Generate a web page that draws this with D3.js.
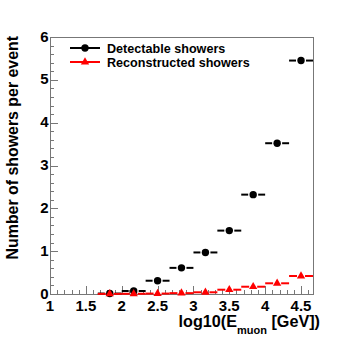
<!DOCTYPE html>
<html>
<head>
<meta charset="utf-8">
<script src="https://cdn.jsdelivr.net/npm/d3@7"></script>
<style>
  html, body { margin: 0; padding: 0; background: #fff; }
  svg text { font-family: "Liberation Sans", Arial, sans-serif; font-weight: bold; }
</style>
</head>
<body>
<svg id="chart" width="360" height="346"></svg>
<script>
// bin centres in log10(E_muon), bins are 1/3 wide
var binCenters = [1.833, 2.167, 2.5, 2.833, 3.167, 3.5, 3.833, 4.167, 4.5];
var binHalf = 1 / 6;
var detectable = [0.01, 0.07, 0.31, 0.61, 0.97, 1.48, 2.32, 3.52, 5.45];
var reconstructed = [0.003, 0.005, 0.01, 0.02, 0.04, 0.10, 0.17, 0.25, 0.42];
var xTicks = [1, 1.5, 2, 2.5, 3, 3.5, 4, 4.5];
var yTicks = [0, 1, 2, 3, 4, 5, 6];
var legendLabels = ["Detectable showers", "Reconstructed showers"];

(function () {
  var svg = d3.select("#chart");
  var L = 50, R = 313, T = 37, B = 294;
  var x = d3.scaleLinear().domain([1, 4.667]).range([L, R]);
  var y = d3.scaleLinear().domain([0, 6]).range([B, T]);
  var axisCol = "#777";

  // frame
  svg.append("rect").attr("x", L + 0.5).attr("y", T + 0.5)
    .attr("width", R - L).attr("height", B - T)
    .attr("fill", "none").attr("stroke", axisCol);

  // x axis ticks (major 0.5, minor 0.1)
  var xMinor = d3.range(10, 47).map(function (d) { return d / 10; });
  svg.append("g").selectAll("line").data(xMinor).enter().append("line")
    .attr("x1", function (d) { return Math.round(x(d)) + 0.5; })
    .attr("x2", function (d) { return Math.round(x(d)) + 0.5; })
    .attr("y1", B)
    .attr("y2", function (d) { return Math.abs(d * 2 - Math.round(d * 2)) < 1e-6 ? B - 8 : B - 4; })
    .attr("stroke", axisCol);
  svg.append("g").selectAll("text").data(xTicks).enter().append("text")
    .attr("x", function (d) { return x(d); }).attr("y", 310.5)
    .attr("text-anchor", "middle").attr("font-size", 15).attr("fill", "#000")
    .text(function (d) { return d; });

  // y axis ticks (major 1, minor 0.2)
  var yMinor = d3.range(0, 31).map(function (d) { return d / 5; });
  svg.append("g").selectAll("line").data(yMinor).enter().append("line")
    .attr("y1", function (d) { return Math.round(y(d)) + 0.5; })
    .attr("y2", function (d) { return Math.round(y(d)) + 0.5; })
    .attr("x1", L)
    .attr("x2", function (d) { return Math.abs(d - Math.round(d)) < 1e-6 ? L + 8 : L + 4; })
    .attr("stroke", axisCol);
  svg.append("g").selectAll("text").data(yTicks).enter().append("text")
    .attr("x", 48.5).attr("y", function (d) { return y(d) + 4.5; })
    .attr("text-anchor", "end").attr("font-size", 15).attr("fill", "#000")
    .text(function (d) { return d; });

  // axis titles
  svg.append("text")
    .attr("transform", "translate(18," + (T - 1) + ") rotate(-90)")
    .attr("text-anchor", "end").attr("font-size", 15.9)
    .text("Number of showers per event");
  var xt = svg.append("text").attr("x", 320).attr("y", 327)
    .attr("text-anchor", "end").attr("font-size", 16.2);
  xt.append("tspan").text("log10(E");
  xt.append("tspan").attr("font-size", 11).attr("dy", 7).text("muon");
  xt.append("tspan").attr("dy", -7).text(" [GeV])");

  function series(vals, col, shape, gap) {
    var g = svg.append("g");
    vals.forEach(function (v, i) {
      var cx = x(binCenters[i]), cy = y(v);
      g.append("line").attr("x1", x(binCenters[i] - binHalf)).attr("x2", cx - gap)
        .attr("y1", cy).attr("y2", cy).attr("stroke", col).attr("stroke-width", 2);
      g.append("line").attr("x1", cx + gap).attr("x2", Math.min(x(binCenters[i] + binHalf), R))
        .attr("y1", cy).attr("y2", cy).attr("stroke", col).attr("stroke-width", 2);
      marker(g, shape, cx, cy, col);
    });
  }
  function marker(g, shape, cx, cy, col) {
    if (shape === "circle") {
      g.append("circle").attr("cx", cx).attr("cy", cy).attr("r", 3.7).attr("fill", col);
    } else {
      g.append("path").attr("d", d3.symbol(d3.symbolTriangle, 30)())
        .attr("transform", "translate(" + cx + "," + cy + ")").attr("fill", col);
    }
  }
  series(detectable, "#000", "circle", 5);
  series(reconstructed, "#ff0000", "triangle", 4);

  // legend
  var leg = [{ c: "#000", s: "circle" }, { c: "#ff0000", s: "triangle" }];
  leg.forEach(function (e, i) {
    var ly = 48 + i * 14;
    svg.append("line").attr("x1", 70).attr("x2", 100).attr("y1", ly).attr("y2", ly)
      .attr("stroke", e.c).attr("stroke-width", 2);
    marker(svg, e.s, 85, ly, e.c);
    svg.append("text").attr("x", 107).attr("y", ly + 4.5)
      .attr("font-size", 12.6).attr("fill", "#000").text(legendLabels[i]);
  });
})();
</script>
</body>
</html>
